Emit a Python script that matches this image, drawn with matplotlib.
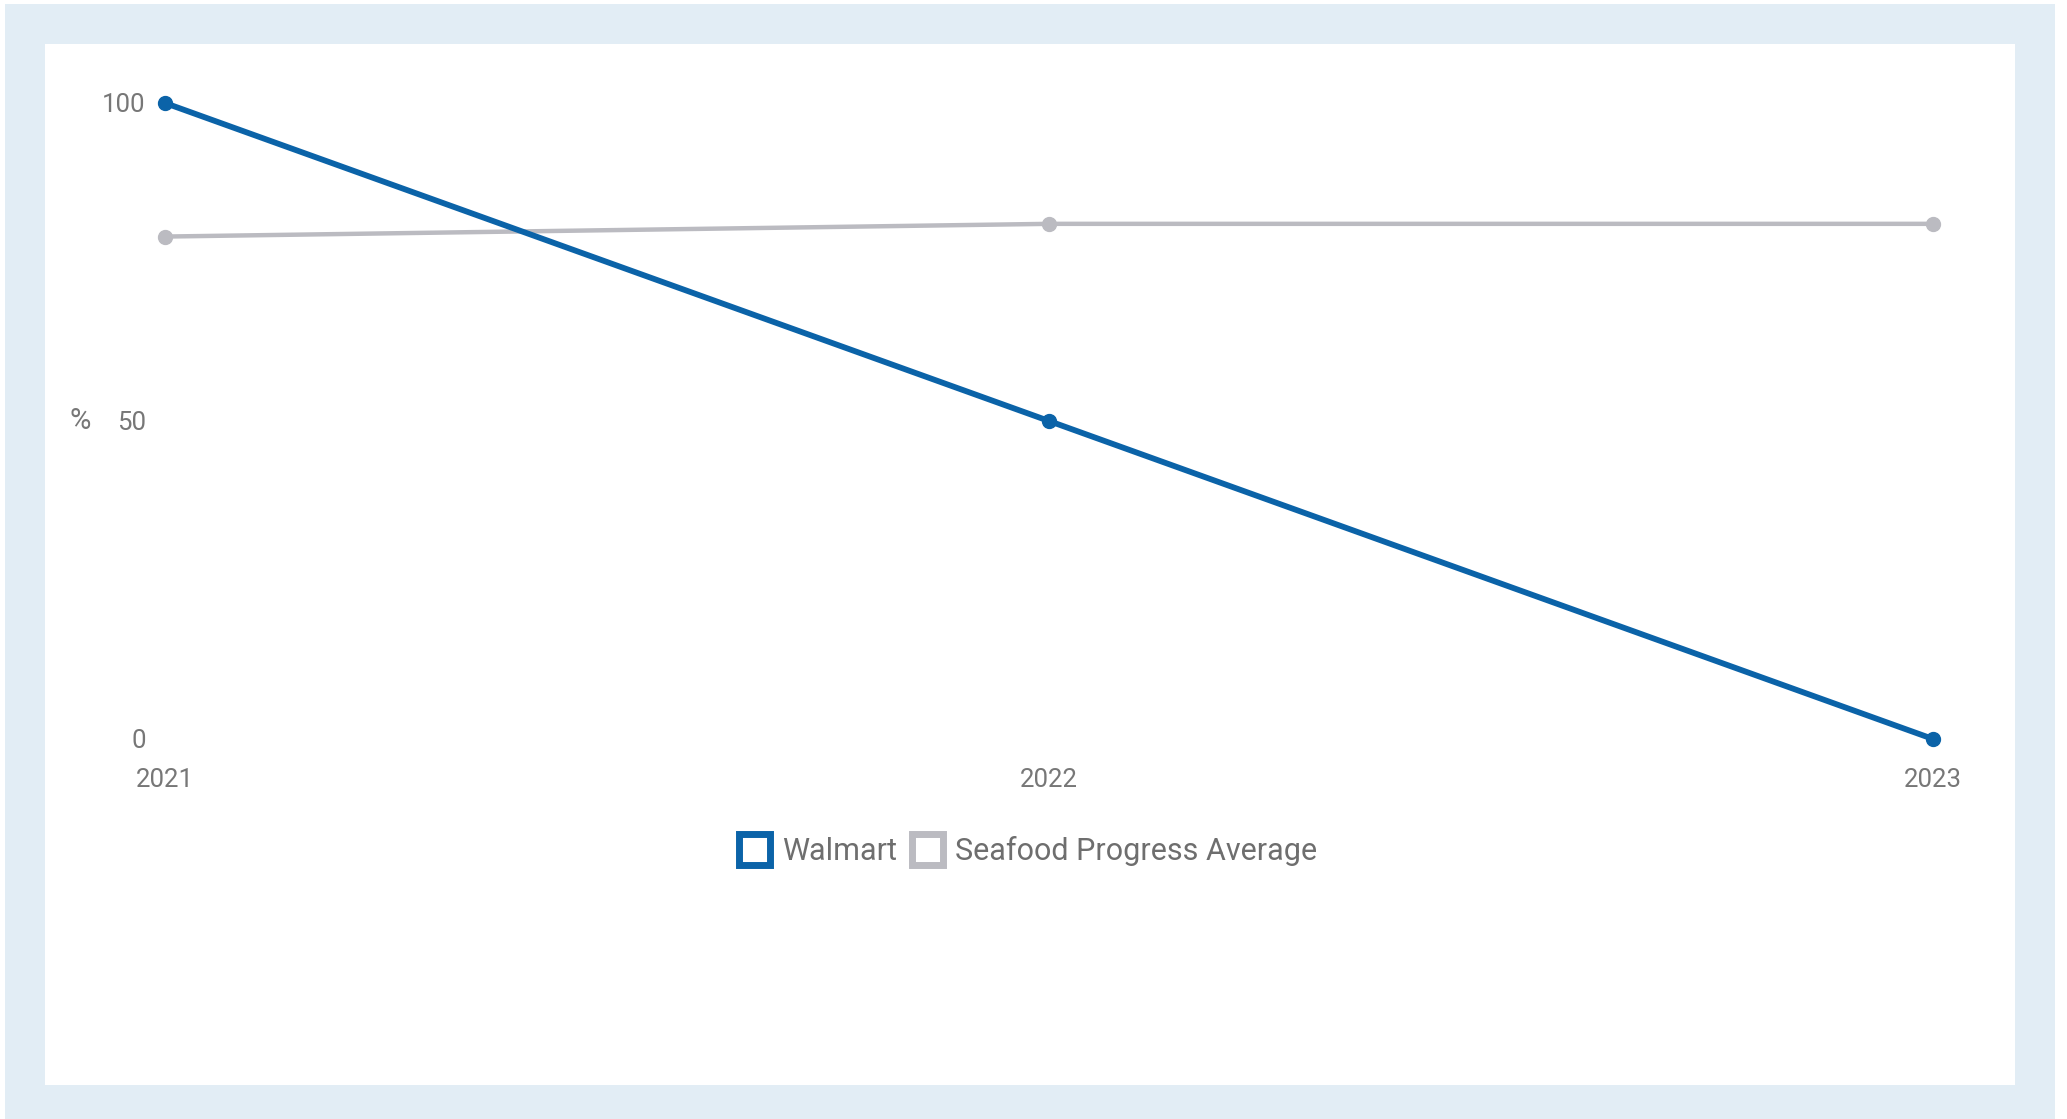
import matplotlib
matplotlib.use("Agg")
import matplotlib.pyplot as plt
from matplotlib.patches import Rectangle, Patch

years = [2021, 2022, 2023]
walmart = [100, 50, 0]
seafood_avg = [79, 81, 81]
yticks = [0, 50, 100]

BLUE = "#0B63A8"
GREY = "#BBBBC1"
FRAME = "#E2EDF5"
TXT = "#777777"

W, H = 2067, 1119
plt.rcParams['font.family'] = ['Roboto', 'DejaVu Sans']

fig = plt.figure(figsize=(W / 100, H / 100), dpi=100)
fig.patch.set_facecolor("white")

# light blue frame with white panel inside (pixel boxes -> figure fractions)
def box(x0, y0, x1, y1, color):
    fig.patches.append(Rectangle((x0 / W, 1 - y1 / H), (x1 - x0) / W, (y1 - y0) / H,
                                 transform=fig.transFigure, facecolor=color,
                                 edgecolor="none", zorder=-10))

box(5, 4, 2055, 1119, FRAME)
box(45, 44, 2015, 1085, "white")

# axes placed so 2021 -> x=165, 2023 -> x=1933, 100 -> y=103, 0 -> y=739
ax = fig.add_axes([165 / W, 1 - 739 / H, (1933 - 165) / W, (739 - 103) / H])
ax.set_facecolor("none")

ax.plot(years, seafood_avg, color=GREY, lw=3.2, marker="o", ms=10,
        clip_on=False, zorder=3)
ax.plot(years, walmart, color=BLUE, lw=4.2, marker="o", ms=10,
        clip_on=False, zorder=4)

ax.set_xlim(2021, 2023)
ax.set_ylim(0, 100)
ax.set_xticks(years)
ax.set_xticklabels([str(y) for y in years])
ax.set_yticks(yticks)
ax.tick_params(axis="y", length=0, pad=14, labelsize=18.5, labelcolor=TXT)
ax.tick_params(axis="x", length=0, pad=21, labelsize=18.5, labelcolor=TXT)
for s in ax.spines.values():
    s.set_visible(False)

ax.set_ylabel("%", rotation=0, fontsize=21, color=TXT, va="center", ha="center")
ax.yaxis.set_label_coords(-0.048, 0.5)

handles = [Patch(facecolor="white", edgecolor=BLUE, linewidth=5, label="Walmart"),
           Patch(facecolor="white", edgecolor=GREY, linewidth=5,
                 label="Seafood Progress Average")]
fig.legend(handles=handles, loc="center", bbox_to_anchor=(1028 / W, 1 - 850 / H),
           ncol=2, frameon=False, fontsize=22, labelcolor="#6E6E6E",
           handlelength=1.0, handleheight=1.2, handletextpad=0.4,
           columnspacing=0.5, borderpad=0)

fig.savefig("out.png", dpi=100)
